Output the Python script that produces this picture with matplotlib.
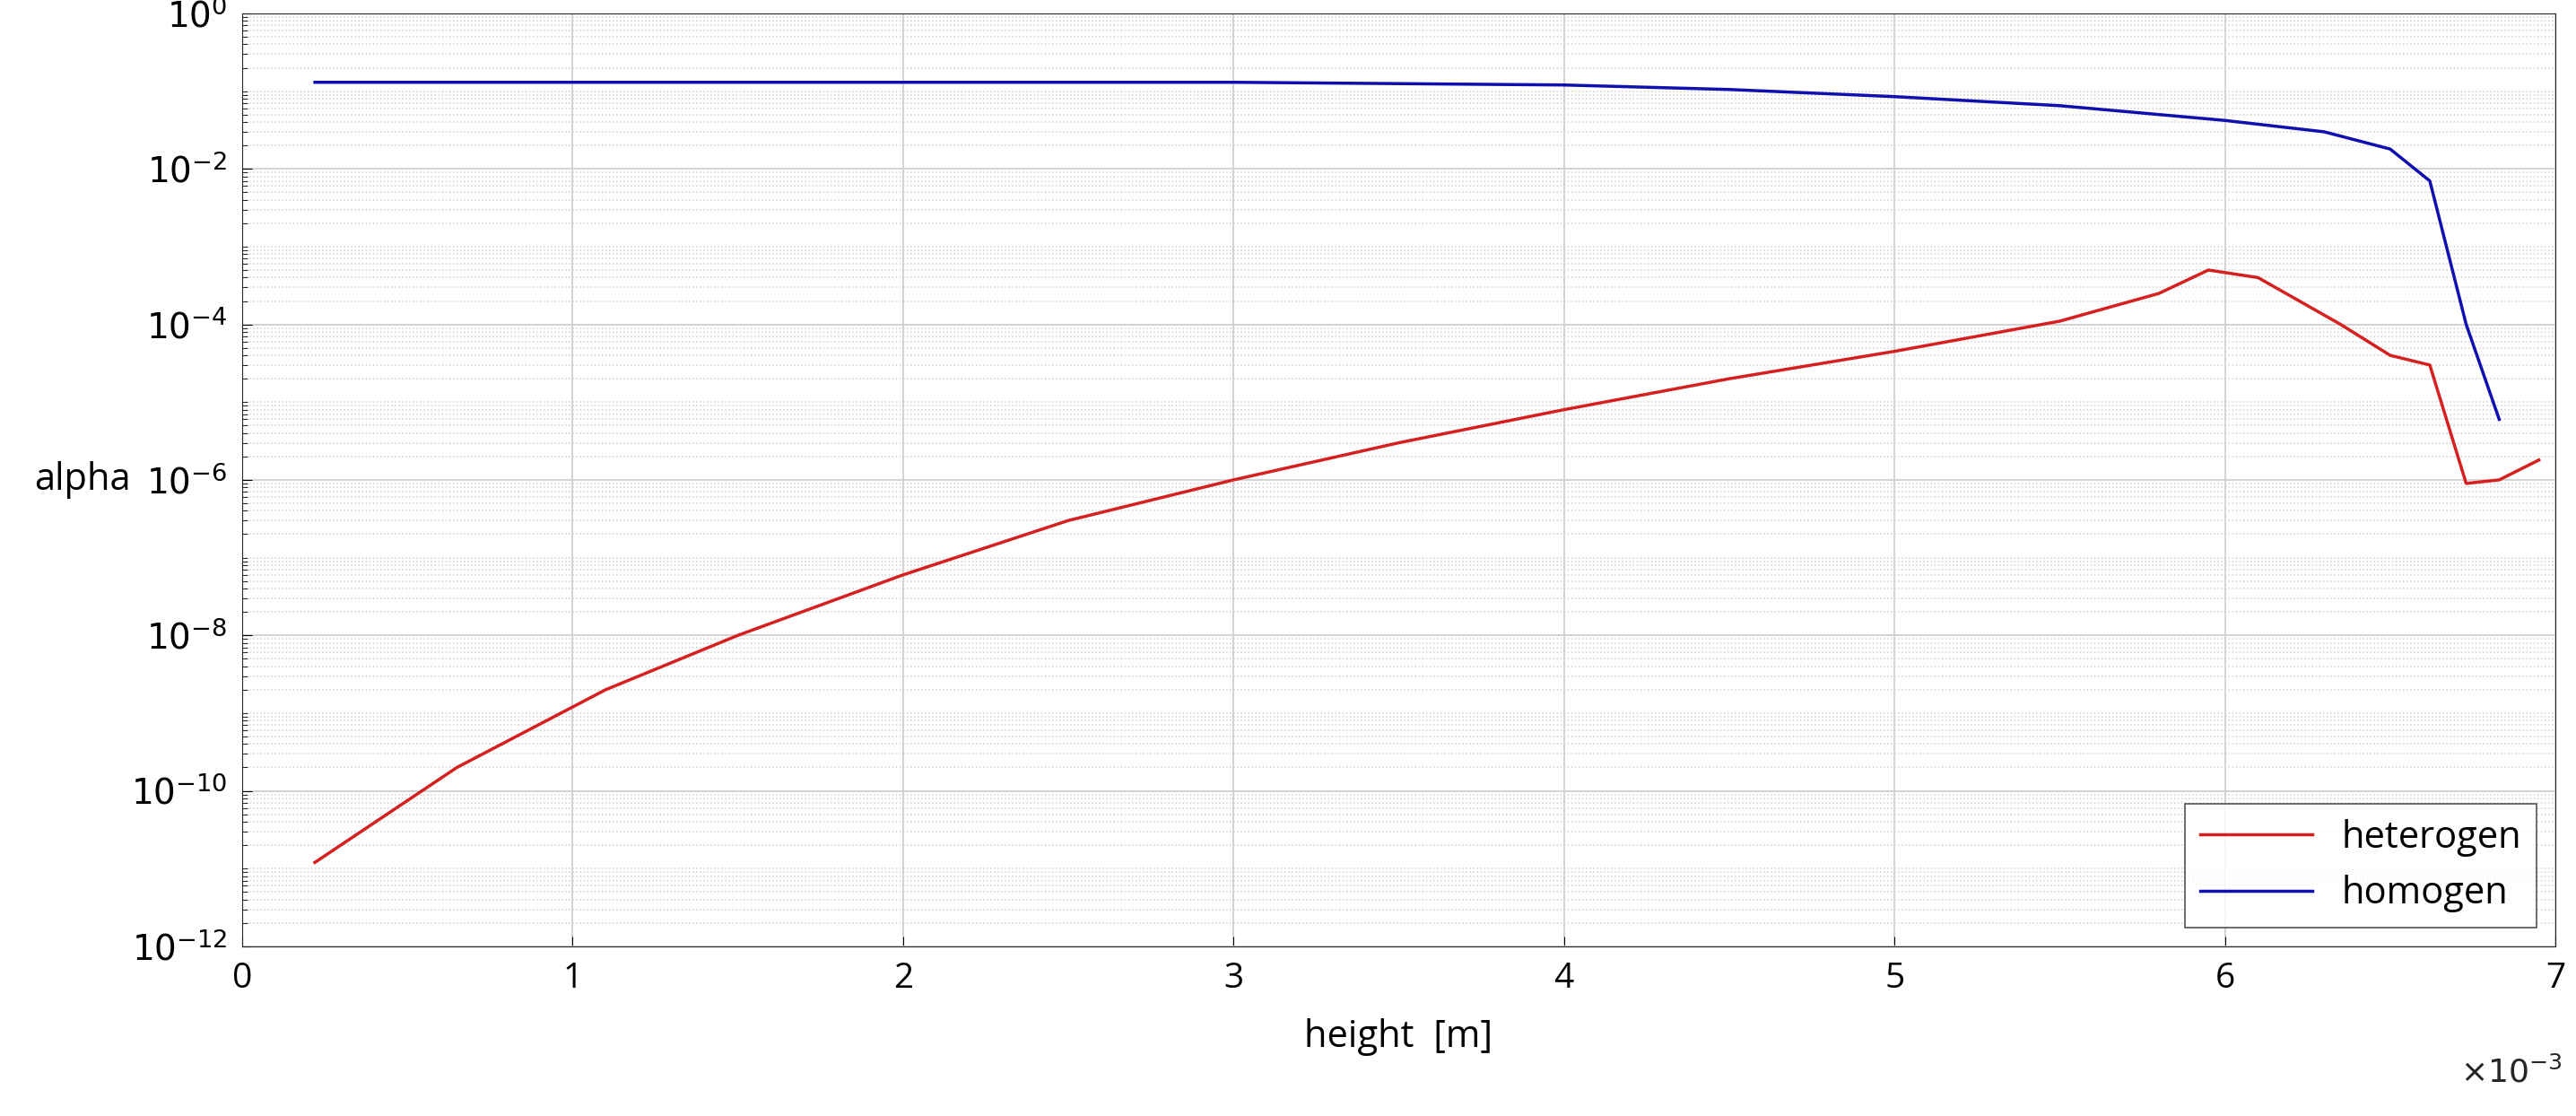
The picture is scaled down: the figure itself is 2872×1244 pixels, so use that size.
import matplotlib
matplotlib.use("Agg")
import matplotlib.pyplot as plt
from matplotlib.ticker import LogLocator, NullFormatter

plt.rcParams['font.family'] = ['Open Sans', 'DejaVu Sans']

x_het = [0.22, 0.65, 1.1, 1.5, 2.0, 2.5, 3.0, 3.5, 4.0, 4.5, 5.0, 5.5, 5.8, 5.95, 6.1, 6.35, 6.5, 6.62, 6.73, 6.83, 6.95]
y_het = [1.2e-11, 2e-10, 2e-9, 1e-8, 6e-8, 3e-7, 1e-6, 3e-6, 8e-6, 2e-5, 4.5e-5, 1.1e-4, 2.5e-4, 5e-4, 4e-4, 1e-4, 4e-5, 3e-5, 9e-7, 1e-6, 1.8e-6]
x_hom = [0.22, 3.0, 4.0, 4.5, 5.0, 5.5, 6.0, 6.3, 6.5, 6.62, 6.73, 6.83]
y_hom = [0.13, 0.13, 0.12, 0.105, 0.085, 0.065, 0.042, 0.03, 0.018, 0.007, 1e-4, 6e-6]

fig = plt.figure(figsize=(28.72, 12.44), dpi=100)
ax = fig.add_axes([0.094, 0.152, 0.898, 0.836])
ax.plot([v*1e-3 for v in x_het], y_het, color='#d62020', lw=2.5, label='heterogen')
ax.plot([v*1e-3 for v in x_hom], y_hom, color='#1010b0', lw=2.5, label='homogen')
ax.set_yscale('log')
ax.set_xlim(0, 7e-3)
ax.set_ylim(1e-12, 1)
ax.set_xticks([i*1e-3 for i in range(8)])
ax.set_xticklabels([str(i) for i in range(8)])
ax.set_yticks([10.0**k for k in range(-12, 1, 2)])
ax.set_yticklabels([r'$10^{%d}$' % k for k in range(-12, 1, 2)])
ax.yaxis.set_minor_locator(LogLocator(base=10, subs=range(1, 10), numticks=100))
ax.yaxis.set_minor_formatter(NullFormatter())
ax.grid(True, which='major', color='#d0d0d0', lw=1.3)
ax.grid(True, which='minor', axis='y', color='#d0d0d0', lw=1.1, ls=':')
ax.tick_params(labelsize=28, direction='in', length=8, pad=12)
ax.tick_params(which='minor', length=4, direction='in')
ax.set_xlabel('height  [m]', fontsize=30, labelpad=18)
ax.set_ylabel('alpha', fontsize=30, rotation=0, va='center', ha='left')
ax.yaxis.set_label_coords(-0.09, 0.5)
fig.text(0.975, 0.03, r'$\times10^{-3}$', fontsize=26, ha='center', color='#262626')
for s in ax.spines.values():
    s.set_color('#262626')
leg = ax.legend(loc='lower right', fontsize=30, frameon=True, fancybox=False, edgecolor='#262626', handlelength=3)
leg.get_frame().set_linewidth(1.2)
fig.savefig('out.png', dpi=100, facecolor='white')
